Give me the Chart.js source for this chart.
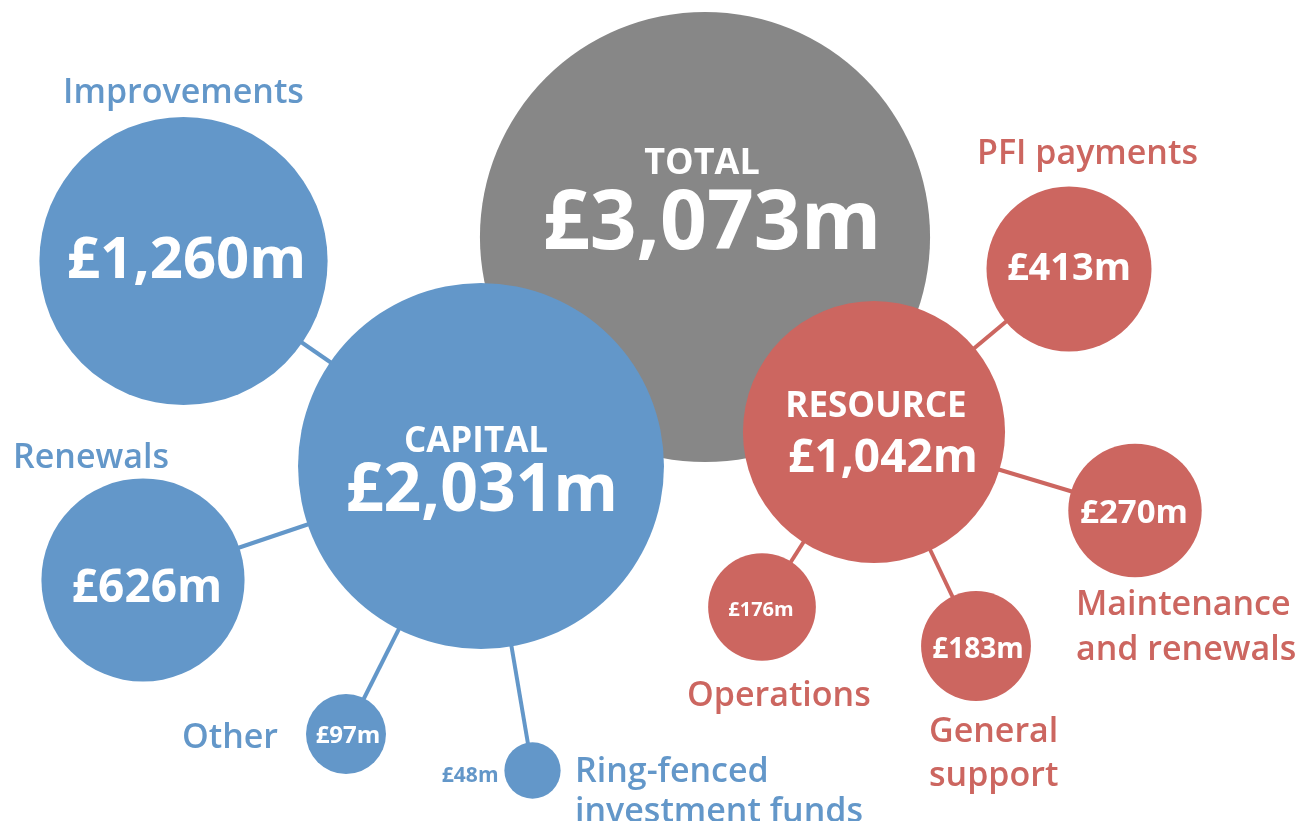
<!DOCTYPE html>
<html>
<head>
<meta charset="utf-8">
<script src="https://cdn.jsdelivr.net/npm/chart.js@4"></script>
<style>
  html, body { margin: 0; padding: 0; background: #fff; }
  #wrap { width: 1297px; height: 821px; position: relative; }
</style>
</head>
<body>
<div id="wrap"><canvas id="budgetChart"></canvas></div>
<script>
// values in £m
const totalLabel = 'TOTAL';
const totalValue = 3073;

const capitalLabel = 'CAPITAL';
const capitalValue = 2031;
const capitalItems = ['Improvements', 'Renewals', 'Other', 'Ring-fenced\ninvestment funds'];
const capitalValues = [1260, 626, 97, 48];

const resourceLabel = 'RESOURCE';
const resourceValue = 1042;
const resourceItems = ['PFI payments', 'Maintenance\nand renewals', 'General\nsupport', 'Operations'];
const resourceValues = [413, 270, 183, 176];

// layout (page pixels) - where each bubble sits and where its text goes
const totalPos = { x: 705, y: 237, tDx: -3, tDy: -63, tSize: 36, vDx: 7, vDy: 12, vSize: 82 };
const capitalPos = { x: 481, y: 466, tDx: -5, tDy: -14, tSize: 35, vDx: 1, vDy: 45, vSize: 66 };
const resourcePos = { x: 874, y: 432, tDx: 2, tDy: -15, tSize: 35, vDx: 9, vDy: 40, vSize: 46 };

const capitalLayout = [
  { x: 183.5, y: 261, vSize: 58, vDx: 3, vDy: 17, nDx: 0, nDy: -158, nAlign: 'center' },
  { x: 143, y: 580, vSize: 46, vDx: 4, vDy: 22, nDx: -130, nDy: -112, nAlign: 'left' },
  { x: 346, y: 734, vSize: 24, vDx: 2, vDy: 9, nDx: -68, nDy: 14, nAlign: 'right' },
  { x: 532.5, y: 770.5, vSize: 21, vDx: -34, vDy: 11.5, vAlign: 'right', nDx: 42.5, nDy: 11.5, nAlign: 'left', nLine: 40 }
];
const resourceLayout = [
  { x: 1069, y: 269, vSize: 38, vDx: 0, vDy: 11, nDx: 18.5, nDy: -105, nAlign: 'center' },
  { x: 1135, y: 510.5, vSize: 33, vDx: -1, vDy: 12.5, nDx: -59, nDy: 104.5, nAlign: 'left', nLine: 45 },
  { x: 976, y: 646, vSize: 28, vDx: 2, vDy: 12, nDx: -47, nDy: 96, nAlign: 'left', nLine: 44 },
  { x: 762, y: 607, vSize: 20, vDx: -1, vDy: 9, nDx: -75, nDy: 99, nAlign: 'left' }
];

const BLUE = '#6397C9';
const RED = '#CC6660';
const GREY = '#878787';
const RADIUS_K = 4.06; // bubble area proportional to value
const FONT = '"Open Sans", "Noto Sans", sans-serif';

function radius(v) { return RADIUS_K * Math.sqrt(v); }
function money(v) { return '£' + v.toLocaleString('en-GB') + 'm'; }

const capitalPoints = [{ x: capitalPos.x, y: capitalPos.y, r: radius(capitalValue) }]
  .concat(capitalLayout.map((p, i) => ({ x: p.x, y: p.y, r: radius(capitalValues[i]) })));
const resourcePoints = [{ x: resourcePos.x, y: resourcePos.y, r: radius(resourceValue) }]
  .concat(resourceLayout.map((p, i) => ({ x: p.x, y: p.y, r: radius(resourceValues[i]) })));

// connectors from each item to its hub
const connectors = [];
capitalLayout.forEach(p => connectors.push({ from: p, to: capitalPos, color: BLUE }));
resourceLayout.forEach(p => connectors.push({ from: p, to: resourcePos, color: RED }));

const lineSets = connectors.map(c => ({
  type: 'line',
  data: [{ x: c.from.x, y: c.from.y }, { x: c.to.x, y: c.to.y }],
  borderColor: c.color,
  borderWidth: 4,
  pointRadius: 0,
  fill: false,
  order: 10,
  clip: false
}));

function drawText(ctx, text, x, y, size, weight, color, align, lineH) {
  ctx.font = weight + ' ' + size + 'px ' + FONT;
  ctx.fillStyle = color;
  ctx.textAlign = align || 'center';
  ctx.textBaseline = 'alphabetic';
  text.split('\n').forEach((line, k) => ctx.fillText(line, x, y + k * (lineH || 0)));
}

const labelPlugin = {
  id: 'bubbleLabels',
  afterDatasetsDraw(chart) {
    const ctx = chart.ctx;
    ctx.save();
    // hubs
    const hubs = [
      { ds: 0, idx: 0, lay: totalPos, title: totalLabel, value: totalValue },
      { ds: 1, idx: 0, lay: capitalPos, title: capitalLabel, value: capitalValue },
      { ds: 2, idx: 0, lay: resourcePos, title: resourceLabel, value: resourceValue }
    ];
    hubs.forEach(h => {
      const el = chart.getDatasetMeta(h.ds).data[h.idx];
      drawText(ctx, h.title, el.x + h.lay.tDx, el.y + h.lay.tDy, h.lay.tSize, 700, '#fff');
      drawText(ctx, money(h.value), el.x + h.lay.vDx, el.y + h.lay.vDy, h.lay.vSize, 700, '#fff');
    });
    // items
    const groups = [
      { ds: 1, layout: capitalLayout, names: capitalItems, values: capitalValues, color: BLUE },
      { ds: 2, layout: resourceLayout, names: resourceItems, values: resourceValues, color: RED }
    ];
    groups.forEach(g => {
      const meta = chart.getDatasetMeta(g.ds);
      g.layout.forEach((p, i) => {
        const el = meta.data[i + 1];
        const vColor = p.vAlign ? g.color : '#fff';
        drawText(ctx, money(g.values[i]), el.x + p.vDx, el.y + p.vDy, p.vSize, 700, vColor, p.vAlign || 'center');
        drawText(ctx, g.names[i], el.x + p.nDx, el.y + p.nDy, 34, 600, g.color, p.nAlign, p.nLine);
      });
    });
    ctx.restore();
  }
};

const ctx = document.getElementById('budgetChart').getContext('2d');

new Chart(ctx, {
  type: 'bubble',
  data: {
    datasets: [
      {
        label: totalLabel,
        data: [{ x: totalPos.x, y: totalPos.y, r: radius(totalValue) }],
        backgroundColor: GREY,
        borderWidth: 0,
        order: 3,
        clip: false
      },
      {
        label: capitalLabel,
        data: capitalPoints,
        backgroundColor: BLUE,
        borderWidth: 0,
        order: 2,
        clip: false
      },
      {
        label: resourceLabel,
        data: resourcePoints,
        backgroundColor: RED,
        borderWidth: 0,
        order: 1,
        clip: false
      }
    ].concat(lineSets)
  },
  options: {
    responsive: true,
    maintainAspectRatio: false,
    animation: false,
    events: [],
    layout: { padding: 0, autoPadding: false },
    plugins: {
      legend: { display: false },
      tooltip: { enabled: false }
    },
    scales: {
      x: { type: 'linear', min: 0, max: 1297, display: false },
      y: { type: 'linear', min: 0, max: 821, reverse: true, display: false }
    },
    elements: { point: { hoverRadius: 0 } }
  },
  plugins: [labelPlugin]
});
</script>
</body>
</html>
